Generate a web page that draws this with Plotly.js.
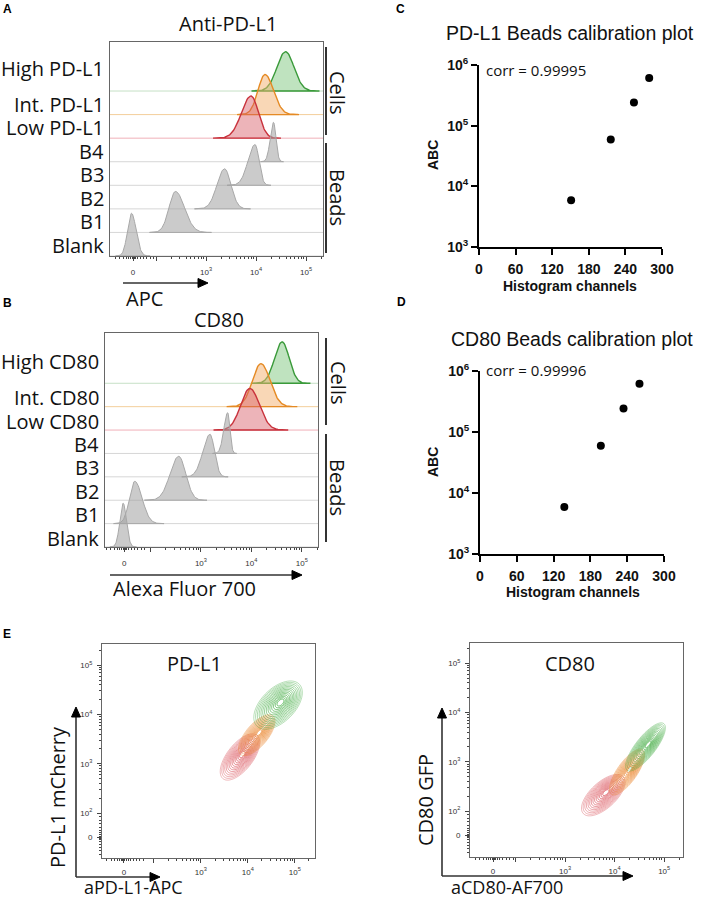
<!DOCTYPE html>
<html><head><meta charset="utf-8">
<script src="https://cdn.plot.ly/plotly-3.0.1.min.js"></script>
<style>html,body{margin:0;padding:0;background:#fff}#chart{width:709px;height:900px}</style>
</head><body><div id="chart"></div>
<script>
// ================= DATA =================
// Panels A/B: stacked histograms. Peak positions in logicle display units (decades: 10^3 -> 3, 10^4 -> 4 ...)
const rowsA = ['Blank','B1','B2','B3','B4','Low PD-L1','Int. PD-L1','High PD-L1'];
const peakA = [1.51, 2.39, 3.37, 3.98, 4.35, 3.90, 4.18, 4.59];
const spreadLeftA = [0.08, 0.13, 0.15, 0.14, 0.065, 0.19, 0.14, 0.17];
const spreadRightA = [0.093, 0.18, 0.13, 0.08, 0.05, 0.15, 0.17, 0.17];
const heightA = [1.81, 1.74, 1.70, 1.73, 1.67, 1.79, 1.70, 1.67];

const rowsB = ['Blank','B1','B2','B3','B4','Low CD80','Int. CD80','High CD80'];
const peakB = [1.46, 1.69, 2.56, 3.18, 3.53, 3.97, 4.19, 4.61];
const spreadLeftB = [0.066, 0.105, 0.17, 0.14, 0.075, 0.18, 0.17, 0.15];
const spreadRightB = [0.066, 0.145, 0.14, 0.09, 0.045, 0.19, 0.18, 0.14];
const heightB = [1.87, 1.81, 1.88, 1.82, 1.74, 1.78, 1.84, 1.77];

// Panels C/D: bead calibration
const beadABC = [5900, 59000, 240000, 610000];
const channelsPDL1 = [151, 216, 254, 279];
const channelsCD80 = [137.5, 197, 234, 260];
const corrPDL1 = '0.99995';
const corrCD80 = '0.99996';

// Panel E: contour populations (centre values, semi-axes in decades, tilt in degrees)
const popNames = ['Low','Int.','High'];
const pdl1CenterAPC = [6800, 15500, 44000];
const pdl1CenterMCherry = [1370, 3800, 15500];
const pdl1Major = [0.57, 0.52, 0.62];
const pdl1Minor = [0.27, 0.23, 0.35];
const pdl1Tilt = [50, 48, 42];
const cd80CenterAF700 = [5900, 17800, 42000];
const cd80CenterGFP = [210, 620, 2000];
const cd80Major = [0.55, 0.55, 0.6];
const cd80Minor = [0.26, 0.2, 0.2];
const cd80Tilt = [43, 55, 52];

// ================= HELPERS =================
const W = 709, H = 900;
const px = x => x / W, py = y => 1 - y / H;
const cellLine = ['#c8323c', '#e58a24', '#3a9a3a'];
const cellFill = ['rgba(214,88,100,0.45)', 'rgba(244,176,110,0.5)', 'rgba(112,192,112,0.45)'];
const cellBase = ['#f0b0b8', '#f3cf9c', '#c6e0c6'];

const traces = [];

function histPanel(xa, ya, rows, peak, sl, sr, hgt, xr) {
  for (let i = rows.length - 1; i >= 0; i--) {
    const isCell = i >= 5;
    const ci = i - 5;
    traces.push({x: [xr[0], xr[1]], y: [i, i], xaxis: xa, yaxis: ya, mode: 'lines',
      line: {color: isCell ? cellBase[ci] : '#d6d6d6', width: 1}, hoverinfo: 'skip'});
    const xs = [], ys = [];
    const x0 = peak[i] - 4 * sl[i], x1 = peak[i] + 4 * sr[i];
    const n = 80;
    for (let k = 0; k <= n; k++) {
      const x = x0 + (x1 - x0) * k / n;
      const s = x < peak[i] ? sl[i] : sr[i];
      xs.push(x); ys.push(i + hgt[i] * Math.exp(-0.5 * Math.pow((x - peak[i]) / s, 2)));
    }
    xs.push(x1, x0); ys.push(i, i);
    traces.push({x: xs, y: ys, xaxis: xa, yaxis: ya, mode: 'lines', fill: 'toself',
      fillcolor: isCell ? cellFill[ci] : 'rgba(160,160,160,0.55)',
      line: {color: isCell ? cellLine[ci] : '#a8a8a8', width: isCell ? 1.4 : 1}, hoverinfo: 'skip'});
  }
}
histPanel('x', 'y', rowsA, peakA, spreadLeftA, spreadRightA, heightA, [1.08, 5.34]);
histPanel('x2', 'y2', rowsB, peakB, spreadLeftB, spreadRightB, heightB, [1.10, 5.32]);

traces.push({x: channelsPDL1, y: beadABC, xaxis: 'x3', yaxis: 'y3', mode: 'markers',
  marker: {color: '#000', size: 8}, cliponaxis: false});
traces.push({x: channelsCD80, y: beadABC, xaxis: 'x4', yaxis: 'y4', mode: 'markers',
  marker: {color: '#000', size: 8}, cliponaxis: false});

const contourLine = ['214,64,74', '232,122,26', '58,168,58'];
function contours(xa, ya, cxv, cyv, maj, mnr, tilt) {
  for (let p = 0; p < cxv.length; p++) {
    const cx = Math.log10(cxv[p]), cy = Math.log10(cyv[p]);
    const t = tilt[p] * Math.PI / 180;
    const levels = 14;
    for (let l = 0; l < levels; l++) {
      const s = 1 - l * 0.066;
      const xs = [], ys = [];
      for (let k = 0; k <= 72; k++) {
        const f = k / 72 * 2 * Math.PI;
        const ex = s * maj[p] * Math.cos(f), ey = s * mnr[p] * Math.sin(f);
        xs.push(cx + ex * Math.cos(t) - ey * Math.sin(t) + (1 - s) * 0.06);
        ys.push(cy + ex * Math.sin(t) + ey * Math.cos(t) + (1 - s) * 0.06);
      }
      const a = 0.45 + 0.55 * (l / levels);
      traces.push({x: xs, y: ys, xaxis: xa, yaxis: ya, mode: 'lines',
        line: {color: 'rgba(' + contourLine[p] + ',' + a.toFixed(2) + ')', width: 0.8, shape: 'spline'}, hoverinfo: 'skip'});
    }
  }
}
contours('x5', 'y5', pdl1CenterAPC, pdl1CenterMCherry, pdl1Major, pdl1Minor, pdl1Tilt);
contours('x6', 'y6', cd80CenterAF700, cd80CenterGFP, cd80Major, cd80Minor, cd80Tilt);

// ---------- axes ----------
function logicleMinor(u0) {
  const v = [];
  [-0.36, -0.27, -0.2, -0.14, -0.09, -0.05, -0.02, 0.02, 0.05, 0.09, 0.14, 0.2, 0.27, 0.34, 0.41].forEach(d => v.push(u0 + d));
  for (let n = 2; n <= 5; n++) for (let k = 2; k <= 9; k++) v.push(n + Math.log10(k));
  return v;
}
function flowAxis(dom, range, u0, anchor, isY, standoff) {
  return {
    domain: dom, range: range, anchor: anchor, showgrid: false, zeroline: false,
    showline: true, mirror: true, linecolor: '#666', linewidth: 1,
    ticks: 'outside', ticklen: 4, tickcolor: '#444', tickwidth: 1,
    tickmode: 'array', tickvals: [u0, 2, 3, 4, 5],
    ticktext: isY ? ['0', '10<sup>2</sup>', '10<sup>3</sup>', '10<sup>4</sup>', '10<sup>5</sup>'] : ['0', '', '10<sup>3</sup>', '10<sup>4</sup>', '10<sup>5</sup>'],
    tickfont: {family: 'Liberation Sans', size: 8, color: '#333'},
    ticklabelstandoff: standoff,
    minor: {tickmode: 'array', tickvals: logicleMinor(u0), ticks: 'outside', ticklen: 2, tickcolor: '#444', tickwidth: 1},
    fixedrange: true
  };
}
function rowAxis(dom, range, anchor) {
  return {domain: dom, range: range, anchor: anchor, showgrid: false, zeroline: false,
    showticklabels: false, ticks: '', showline: true, mirror: true, linecolor: '#666', linewidth: 1};
}
function prismAxis(dom, anchor, extra) {
  return Object.assign({domain: dom, anchor: anchor, showgrid: false, zeroline: false,
    showline: true, linecolor: '#000', linewidth: 2, ticks: 'outside', ticklen: 6, tickwidth: 2, tickcolor: '#000',
    tickfont: {family: 'Liberation Sans', size: 14, color: '#111', weight: 'bold'}}, extra);
}
const decTicks = [1e3, 1e4, 1e5, 1e6];
const decText = ['10<sup>3</sup>', '10<sup>4</sup>', '10<sup>5</sup>', '10<sup>6</sup>'];

const layout = {
  width: W, height: H, margin: {l: 0, r: 0, t: 0, b: 0},
  paper_bgcolor: '#fff', plot_bgcolor: 'rgba(0,0,0,0)', showlegend: false,
  font: {family: 'Open Sans', color: '#111'},
  xaxis: flowAxis([px(110), px(323)], [1.08, 5.34], 1.54, 'y', false, 4),
  yaxis: rowAxis([py(256), py(42)], [0, 9.08], 'x'),
  xaxis2: flowAxis([px(105), px(318)], [1.10, 5.32], 1.48, 'y2', false, 4),
  yaxis2: rowAxis([py(547), py(333)], [0, 9.15], 'x2'),
  xaxis3: prismAxis([px(479), px(662)], 'y3', {range: [0, 300], tickvals: [0, 60, 120, 180, 240, 300], ticklabelstandoff: 2}),
  yaxis3: prismAxis([py(247), py(65)], 'x3', {type: 'log', range: [3, 6], tickvals: decTicks, ticktext: decText}),
  xaxis4: prismAxis([px(480), px(664)], 'y4', {range: [0, 300], tickvals: [0, 60, 120, 180, 240, 300], ticklabelstandoff: 2}),
  yaxis4: prismAxis([py(554), py(370.7)], 'x4', {type: 'log', range: [3, 6], tickvals: decTicks, ticktext: decText}),
  xaxis5: flowAxis([px(102), px(315)], [0.894, 5.43], 1.36, 'y5', false, 2),
  yaxis5: flowAxis([py(858), py(644)], [1.087, 5.43], 1.51, 'x5', true, 3),
  xaxis6: flowAxis([px(470), px(683)], [1.08, 5.38], 1.545, 'y6', false, 2),
  yaxis6: flowAxis([py(857), py(643)], [1.067, 5.41], 1.51, 'x6', true, 3),
  annotations: [], shapes: []
};

function ann(text, x, y, o) {
  layout.annotations.push(Object.assign({text: text, x: px(x), y: py(y), xref: 'paper', yref: 'paper',
    showarrow: false, xanchor: 'center', yanchor: 'middle',
    font: {family: 'Open Sans', size: 20, color: '#111'}}, o || {}));
}
// panel letters
[['A', 7, 9], ['B', 7, 303], ['C', 400, 9], ['D', 401, 302], ['E', 7, 634]].forEach(l =>
  ann('<b>' + l[0] + '</b>', l[1], l[2], {font: {family: 'Liberation Sans', size: 12, color: '#000'}}));

// A/B titles and row labels
ann('Anti-PD-L1', 228, 23);
ann('CD80', 219, 319);
const baseA = i => 256 - i * (214 / 9.08);
const baseB = i => 547 - i * (214 / 9.15);
rowsA.forEach((r, i) => ann(r, 106, baseA(i) - (i === 7 ? 23 : 10.5), {xanchor: 'right'}));
rowsB.forEach((r, i) => ann(r, 101, baseB(i) - (i === 7 ? 21.5 : 9), {xanchor: 'right'}));
ann('Cells', 338, 92, {textangle: 90});
ann('Beads', 338, 197, {textangle: 90});
ann('Cells', 338, 382, {textangle: 90});
ann('Beads', 338, 487, {textangle: 90});
ann('APC', 144, 298);
ann('Alexa Fluor 700', 184, 588);

// C/D text
ann('PD-L1 Beads calibration plot', 570, 33, {font: {family: 'Liberation Sans', size: 19.5, color: '#111'}});
ann('CD80 Beads calibration plot', 572, 339, {font: {family: 'Liberation Sans', size: 19.5, color: '#111'}});
ann('<b>ABC</b>', 433, 155, {textangle: -90, font: {family: 'Liberation Sans', size: 14, color: '#111'}});
ann('<b>ABC</b>', 433, 462, {textangle: -90, font: {family: 'Liberation Sans', size: 14, color: '#111'}});
ann('<b>Histogram channels</b>', 570, 286, {font: {family: 'Liberation Sans', size: 14, color: '#111'}});
ann('<b>Histogram channels</b>', 573, 592, {font: {family: 'Liberation Sans', size: 14, color: '#111'}});
ann('corr = ' + corrPDL1, 484, 70, {xanchor: 'left', font: {family: 'Open Sans', size: 15, color: '#111'}});
ann('corr = ' + corrCD80, 484, 370, {xanchor: 'left', font: {family: 'Open Sans', size: 15, color: '#111'}});

// E text
ann('PD-L1', 194, 663);
ann('CD80', 570, 663);
ann('PD-L1 mCherry', 57, 797, {textangle: -90});
ann('CD80 GFP', 425, 800, {textangle: -90});
ann('aPD-L1-APC', 133, 899.5, {yanchor: 'bottom', borderpad: 0, font: {family: 'Open Sans', size: 18, color: '#111'}});
ann('aCD80-AF700', 507, 899.5, {yanchor: 'bottom', borderpad: 0, font: {family: 'Open Sans', size: 18, color: '#111'}});

// shapes: brackets & arrows
function seg(x0, y0, x1, y1, w) {
  layout.shapes.push({type: 'line', xref: 'paper', yref: 'paper', x0: px(x0), y0: py(y0), x1: px(x1), y1: py(y1),
    line: {color: '#333', width: w}});
}
function tri(pts) {
  const d = 'M ' + pts.map(p => px(p[0]) + ',' + py(p[1])).join(' L ') + ' Z';
  layout.shapes.push({type: 'path', xref: 'paper', yref: 'paper', path: d, fillcolor: '#000', line: {color: '#000', width: 1}});
}
seg(326, 47, 326, 135, 2); seg(326, 143, 326, 253, 2);
seg(326, 338, 326, 425, 2); seg(326, 434, 326, 542, 2);
function hArrow(x0, x1, y) { seg(x0, y, x1 - 9, y, 1.6); tri([[x1, y], [x1 - 10, y - 4.5], [x1 - 10, y + 4.5]]); }
function vArrow(x, y0, y1) { seg(x, y0, x, y1 + 9, 1.6); tri([[x, y1], [x - 4.5, y1 + 10], [x + 4.5, y1 + 10]]); }
hArrow(123, 208, 283);
hArrow(110, 302, 575);
hArrow(76, 160, 877); vArrow(76, 877, 707);
hArrow(442, 633, 876); vArrow(442, 876, 708);

Plotly.newPlot('chart', traces, layout, {staticPlot: true, displayModeBar: false});
</script></body></html>
